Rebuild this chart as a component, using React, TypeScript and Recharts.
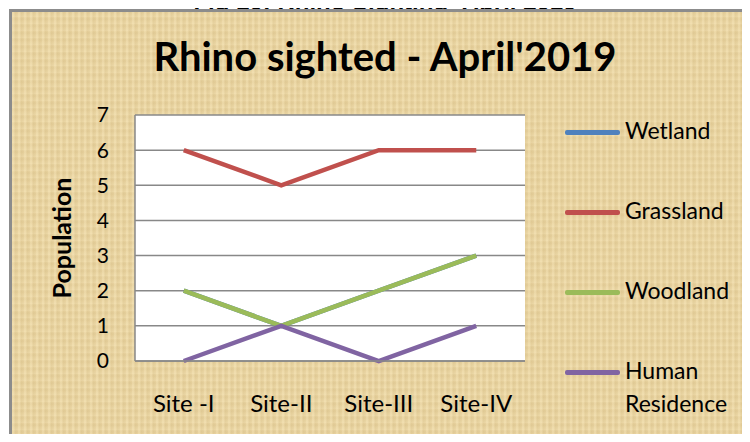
import React from 'react';
import { LineChart, Line, XAxis, YAxis, CartesianGrid, Legend } from 'recharts';

const sites = ['Site -I', 'Site-II', 'Site-III', 'Site-IV'];
const wetland = [2, 1, 2, 3];
const grassland = [6, 5, 6, 6];
const woodland = [2, 1, 2, 3];
const humanResidence = [0, 1, 0, 1];
const yTicks = [0, 1, 2, 3, 4, 5, 6, 7];

const seriesInfo = [
  { key: 'Wetland', color: '#4F81BD' },
  { key: 'Grassland', color: '#C0504D' },
  { key: 'Woodland', color: '#9BBB59' },
  { key: 'Human Residence', color: '#8064A2' },
];

const data = sites.map((site, i) => ({
  name: site,
  Wetland: wetland[i],
  Grassland: grassland[i],
  Woodland: woodland[i],
  'Human Residence': humanResidence[i],
}));

const font = 'Lato, "Open Sans", sans-serif';

function LegendBox() {
  return (
    <div style={{ fontFamily: font, fontSize: 23, color: '#000' }}>
      {seriesInfo.map((s) => (
        <div key={s.key} style={{ display: 'flex', alignItems: 'flex-start', height: 80 }}>
          <div style={{ width: 55, height: 4.5, borderRadius: 2, background: s.color, marginTop: 12, marginRight: 5 }} />
          <div style={{ width: 125, lineHeight: '33px', marginTop: -4 }}>{s.key}</div>
        </div>
      ))}
    </div>
  );
}

export default function App() {
  return (
    <div style={{ position: 'relative', margin: -8, width: 750, height: 442, overflow: 'hidden', background: '#fff' }}>
      <div style={{ position: 'absolute', top: -10, left: 0, width: 770, textAlign: 'center', fontFamily: '"Liberation Sans", Arial, sans-serif', fontWeight: 'bold', fontSize: 24, lineHeight: '24px' }}>
        Fig 10: Rhino Sighting- April 2019
      </div>
      <div
        style={{
          position: 'absolute', left: 9, top: 9, width: 760, height: 460,
          border: '3px solid #8c8c8c',
          background: '#E8D3A0',
          backgroundImage:
            'repeating-linear-gradient(90deg, rgba(255,240,200,0.25) 0px, rgba(255,240,200,0.25) 2px, rgba(190,160,100,0.12) 3px, transparent 6px), repeating-linear-gradient(0deg, rgba(255,240,200,0.2) 0px, transparent 3px, rgba(190,160,100,0.12) 5px, transparent 7px)',
        }}
      />
      <div style={{ position: 'absolute', left: 0, top: 31, width: 770, textAlign: 'center', fontFamily: font, fontWeight: 'bold', fontSize: 40, lineHeight: '50px', color: '#000' }}>
        Rhino sighted - April'2019
      </div>
      <div style={{ position: 'absolute', left: 0, top: 0 }}>
        <LineChart width={750} height={442} data={data} margin={{ top: 115, right: 225, bottom: 51, left: 75 }}>
          <CartesianGrid vertical={false} stroke="#888" strokeWidth={1.5} fill="#fff" fillOpacity={1} />
          <XAxis
            dataKey="name"
            padding={{ left: 48.75, right: 48.75 }}
            axisLine={{ stroke: '#888', strokeWidth: 1.5 }}
            tickLine={false}
            tickSize={0}
            tickMargin={34}
            height={30}
            tick={{ fill: '#000', fontSize: 24, fontFamily: font }}
          />
          <YAxis
            domain={[0, 7]}
            ticks={yTicks}
            width={60}
            interval={0}
            axisLine={{ stroke: '#888', strokeWidth: 1.5 }}
            tickLine={false}
            tickSize={0}
            tickMargin={26}
            tick={{ fill: '#000', fontSize: 21, fontFamily: font }}
            label={{ value: 'Population', angle: -90, position: 'left', offset: 13, style: { fontFamily: font, fontWeight: 'bold', fontSize: 25, fill: '#000', textAnchor: 'middle' } }}
          />
          <Legend
            layout="horizontal"
            align="center"
            verticalAlign="middle"
            content={() => <LegendBox />}
            wrapperStyle={{ left: 565, top: 118, width: 185, height: 320 }}
          />
          {seriesInfo.map((s) => (
            <Line
              key={s.key}
              type="linear"
              dataKey={s.key}
              stroke={s.color}
              strokeWidth={4.5}
              dot={false}
              activeDot={false}
              isAnimationActive={false}
            />
          ))}
        </LineChart>
      </div>
    </div>
  );
}
